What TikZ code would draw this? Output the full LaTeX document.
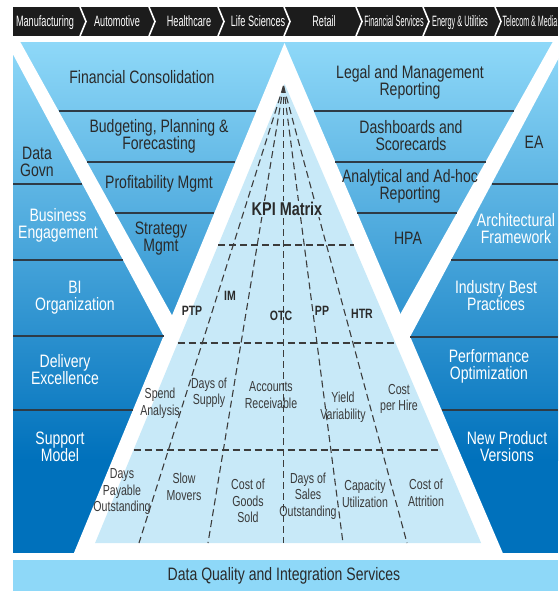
\documentclass[tikz,border=0pt]{standalone}
\usepackage{fontspec}
\setmainfont{Liberation Sans}
\newfontfamily\mainf{Liberation Sans}[FakeStretch=0.78]
\newfontfamily\bannerf{Liberation Sans}[FakeStretch=0.61]
\newfontfamily\cellf{Liberation Sans}[FakeStretch=0.73]
\definecolor{topblue}{HTML}{8ED8F8}
\definecolor{darkblue}{HTML}{0071BC}
\definecolor{lightpyr}{HTML}{C8E9F8}
\definecolor{linegray}{HTML}{2E3B46}
\definecolor{txt}{HTML}{2A2A2A}
\definecolor{celltxt}{HTML}{3A3A3A}
\definecolor{dashgray}{HTML}{3C3C3C}
\definecolor{bannerbg}{HTML}{1C1C1C}
\tikzset{
 lbl/.style={font=\mainf\fontsize{18}{17}\selectfont, text=txt, align=center, inner sep=0pt},
 lblw/.style={lbl, text=white},
 ban/.style={font=\bannerf\fontsize{15}{15}\selectfont, text=white, inner sep=0pt, anchor=base},
 cell/.style={font=\cellf\fontsize{14.5}{16.5}\selectfont, text=celltxt, align=center, inner sep=0pt},
 proc/.style={font=\mainf\bfseries\fontsize{13.5}{13.5}\selectfont, text=txt, inner sep=0pt},
 rowline/.style={draw=linegray, line width=1.2pt},
 kpidash/.style={draw=dashgray, line width=1.1pt, dash pattern=on 7pt off 4pt},
 chev/.style={draw=white, line width=1.6pt},
}
\begin{document}
\begin{tikzpicture}[x=1pt,y=-1pt]
\useasboundingbox (0,0) rectangle (558,591);
% ---- banner
\fill[bannerbg] (13,7) rectangle (558,36);
\foreach \cx in {80,149,218,284,356,423,495}{
  \draw[chev] (\cx,7) -- ({\cx+6},21.5) -- (\cx,36);
}
\node[ban] (b1) at (45,27) {Manufacturing};
\node[ban] (b2) at (117,27) {Automotive};
\node[ban] (b3) at (189,27) {Healthcare};
\node[ban] (b4) at (258,27) {Life Sciences};
\node[ban] (b5) at (324,27) {Retail};
\node[ban] (b6) at (394,27) {\scalebox{0.8}[1]{Financial Services}};
\node[ban] (b7) at (460,27) {\scalebox{0.8}[1]{Energy \& Utilities}};
\node[ban] (b8) at (530,27) {\scalebox{0.78}[1]{Telecom \& Media}};
% ---- background gradient
\shade[top color=topblue, bottom color=darkblue] (13,43) rectangle (558,460);
\fill[darkblue] (13,459.5) rectangle (558,553);
% ---- white cut-outs
\fill[white] (284.5,43) -- (73.9,553) -- (502.8,553) -- cycle;
\fill[white] (5.3,40) -- (19.2,40) -- (188.5,345) -- (168.5,345) -- cycle;
\fill[white] (553.8,40) -- (568.3,40) -- (405.7,345) -- (383,345) -- cycle;
\fill[white] (0,40) rectangle (13,560);
% ---- light KPI pyramid
\fill[lightpyr] (284.7,84) -- (95.1,543) -- (481.1,543) -- cycle;
\coordinate (apex) at (283.5,86);
\coordinate (e1) at (139,543);
\coordinate (e2) at (208,543);
\coordinate (e3) at (283.5,543);
\coordinate (e4) at (343,543);
\coordinate (e5) at (407,543);
\foreach \e in {e1,e2,e3,e4,e5}{ \draw[kpidash] (apex) -- (\e); }
\draw[kpidash] (218.2,245) -- (353.6,245);
\draw[kpidash] (177.7,343) -- (395.5,343);
\draw[kpidash] (133.5,450) -- (441.3,450);
% ---- row lines
\draw[rowline] (58.6,111) -- (256.4,111);
\draw[rowline] (86.9,162) -- (235.4,162);
\draw[rowline] (115.2,213) -- (214.3,213);
\draw[rowline] (313.6,111) -- (514,111);
\draw[rowline] (335.4,162) -- (485.5,162);
\draw[rowline] (357.3,213) -- (456.9,213);
\draw[rowline] (13,184) -- (82.4,184);
\draw[rowline] (13,260) -- (123,260);
\draw[rowline] (13,336) -- (163.7,336);
\draw[rowline] (13,410) -- (132.9,410);
\draw[rowline] (491.5,184) -- (558,184);
\draw[rowline] (451,260) -- (558,260);
\draw[rowline] (410,337) -- (558,337);
\draw[rowline] (441.6,410) -- (558,410);
% ---- labels left triangle
\node[lbl] (fc) at (142,77) {Financial Consolidation};
\node[lbl] (bpf) at (159,136) {Budgeting, Planning \&\\Forecasting};
\node[lbl] (pm) at (159,184) {Profitability Mgmt};
\node[lbl] (sm) at (161,239) {Strategy\\Mgmt};
% ---- left column
\node[lbl] (dg) at (37,162) {Data\\Govn};
\node[lblw] (be) at (58,225) {Business\\Engagement};
\node[lblw] (bio) at (75,298) {BI\\Organization};
\node[lblw] (de) at (65,370) {Delivery\\Excellence};
\node[lblw] (spm) at (60,447) {Support\\Model};
% ---- right triangle
\node[lbl] (lmr) at (410,82) {Legal and Management\\Reporting};
\node[lbl] (ds) at (411,136) {Dashboards and\\Scorecards};
\node[lbl] (aar) at (410,186) {Analytical and Ad-hoc\\Reporting};
\node[lbl] (hpa) at (408,238) {HPA};
% ---- right column
\node[lbl] (ea) at (534,142) {EA};
\node[lblw] (af) at (516,229) {Architectural\\Framework};
\node[lblw] (ibp) at (496,296) {Industry Best\\Practices};
\node[lblw] (po) at (489,366) {Performance\\Optimization};
\node[lblw] (npv) at (507,447) {New Product\\Versions};
% ---- KPI matrix labels
\node[font=\mainf\bfseries\fontsize{18.5}{18.5}\selectfont, text=txt, fill=lightpyr, inner sep=1pt] (kpi) at (287,209) {KPI Matrix};
\node[proc] (ptp) at (192,311) {PTP};
\node[proc] (im) at (230,296) {IM};
\node[proc] (otc) at (281,316) {OTC};
\node[proc] (pp) at (322,311) {PP};
\node[proc] (htr) at (362,314) {HTR};
% ---- cells row 1
\node[cell] (c11) at (160,403) {Spend\\Analysis};
\node[cell] (c12) at (209,393) {Days of\\Supply};
\node[cell] (c13) at (271,395) {Accounts\\Receivable};
\node[cell] (c14) at (343,407) {Yield\\Variability};
\node[cell] (c15) at (399,399) {Cost\\per Hire};
% ---- cells row 2
\node[cell] (c21) at (122,492) {Days\\Payable\\Outstanding};
\node[cell] (c22) at (184,487) {Slow\\Movers};
\node[cell] (c23) at (248,501) {Cost of\\Goods\\Sold};
\node[cell] (c24) at (308,496) {Days of\\Sales\\Outstanding};
\node[cell] (c25) at (365,494) {Capacity\\Utilization};
\node[cell] (c26) at (426,493) {Cost of\\Attrition};
% ---- bottom band
\fill[topblue] (13,560) rectangle (558,591);
\node[lbl] (dq) at (284,576) {Data Quality and Integration Services};
\end{tikzpicture}
\end{document}
